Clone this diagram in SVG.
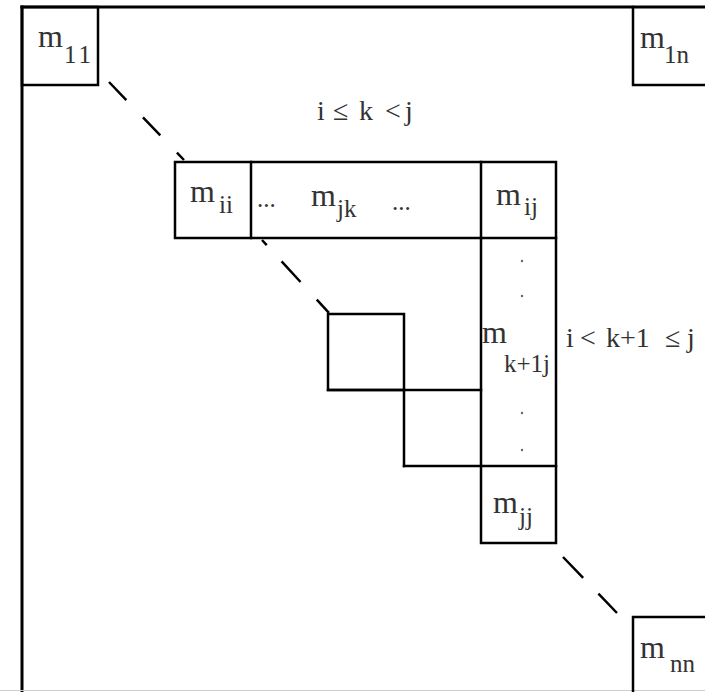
<svg xmlns="http://www.w3.org/2000/svg" width="705" height="692" viewBox="0 0 705 692">
  <style>
    .ln { fill: none; stroke: #000; stroke-width: 2.5; stroke-linecap: square; }
    .dash { fill: none; stroke: #000; stroke-width: 2.5; }
    .t { font-family: "Liberation Serif", "Times New Roman", serif; fill: #333; }
    .m { font-size: 32px; }
    .s { font-size: 25px; }
    .rel { font-size: 28px; }
    .dot { fill: #666; }
  </style>
  <rect width="705" height="692" fill="#fff"/>

  <!-- outer matrix frame -->
  <g id="frame">
    <line class="ln" x1="22" y1="7" x2="705" y2="7" style="stroke-width:3.2"/>
    <line class="ln" x1="22" y1="7" x2="22" y2="692" style="stroke-width:3"/>
    <line x1="0" y1="690.5" x2="705" y2="690.5" stroke="#ccc" stroke-width="1.2"/>
  </g>

  <!-- corner cells -->
  <g id="m11">
    <rect class="ln" x="22" y="7" width="76" height="78"/>
    <text class="t m" x="38" y="47">m</text>
    <text class="t s" x="64" y="63" letter-spacing="3">11</text>
  </g>
  <g id="m1n">
    <polyline class="ln" points="633,7 633,85 705,85"/>
    <text class="t m" x="640" y="48">m</text>
    <text class="t s" x="664" y="63">1n</text>
  </g>
  <g id="mnn">
    <polyline class="ln" points="633,692 633,617 705,617"/>
    <text class="t m" x="640" y="658">m</text>
    <text class="t s" x="670" y="672">nn</text>
  </g>

  <!-- row i -->
  <g id="row-i">
    <rect class="ln" x="175" y="162" width="381" height="76"/>
    <line class="ln" x1="251" y1="162" x2="251" y2="238"/>
    <line class="ln" x1="481" y1="162" x2="481" y2="238"/>
  </g>
  <g id="mii">
    <text class="t m" x="190" y="202">m</text>
    <text class="t s" x="219" y="213">ii</text>
  </g>
  <g id="mjk">
    <text class="t s" x="257" y="207">...</text>
    <text class="t m" x="311" y="206">m</text>
    <text class="t s" x="337" y="217">jk</text>
    <text class="t s" x="392" y="210">...</text>
  </g>
  <g id="mij">
    <text class="t m" x="496" y="205">m</text>
    <text class="t s" x="524" y="215">ij</text>
  </g>

  <!-- column j -->
  <g id="col-j">
    <polyline class="ln" points="481,238 481,543 556,543 556,238"/>
    <line class="ln" x1="404" y1="466" x2="556" y2="466"/>
    <circle class="dot" cx="522" cy="261" r="1.2"/>
    <circle class="dot" cx="522" cy="296" r="1.2"/>
    <circle class="dot" cx="522" cy="413" r="1.2"/>
    <circle class="dot" cx="522" cy="450" r="1.2"/>
  </g>
  <g id="mk1j">
    <text class="t m" x="482" y="343">m</text>
    <text class="t s" x="504" y="372">k+1j</text>
  </g>
  <g id="mjj">
    <text class="t m" x="493" y="513">m</text>
    <text class="t s" x="519" y="525">jj</text>
  </g>

  <!-- intermediate diagonal cells -->
  <g id="stair">
    <rect class="ln" x="328" y="314" width="76" height="76"/>
    <line class="ln" x1="328" y1="390" x2="481" y2="390"/>
    <line class="ln" x1="404" y1="390" x2="404" y2="466"/>
  </g>

  <!-- range labels -->
  <g id="range-k">
    <text class="t rel" y="120"><tspan x="317">i</tspan><tspan x="333">≤</tspan><tspan x="359">k</tspan><tspan x="385">&lt;</tspan><tspan x="405">j</tspan></text>
  </g>
  <g id="range-k1">
    <text class="t rel" y="347"><tspan x="566">i</tspan><tspan x="580">&lt;</tspan><tspan x="606">k+1</tspan><tspan x="665">≤</tspan><tspan x="687">j</tspan></text>
  </g>

  <!-- diagonal connectors -->
  <g id="connectors">
    <line class="dash" x1="109" y1="82" x2="184" y2="160" stroke-dasharray="25 24"/>
    <line class="dash" x1="262" y1="240" x2="329" y2="313" stroke-dasharray="7 22 28 24 18"/>
    <line class="dash" x1="563" y1="557" x2="617" y2="613" stroke-dasharray="29 22 27"/>
  </g>
</svg>
